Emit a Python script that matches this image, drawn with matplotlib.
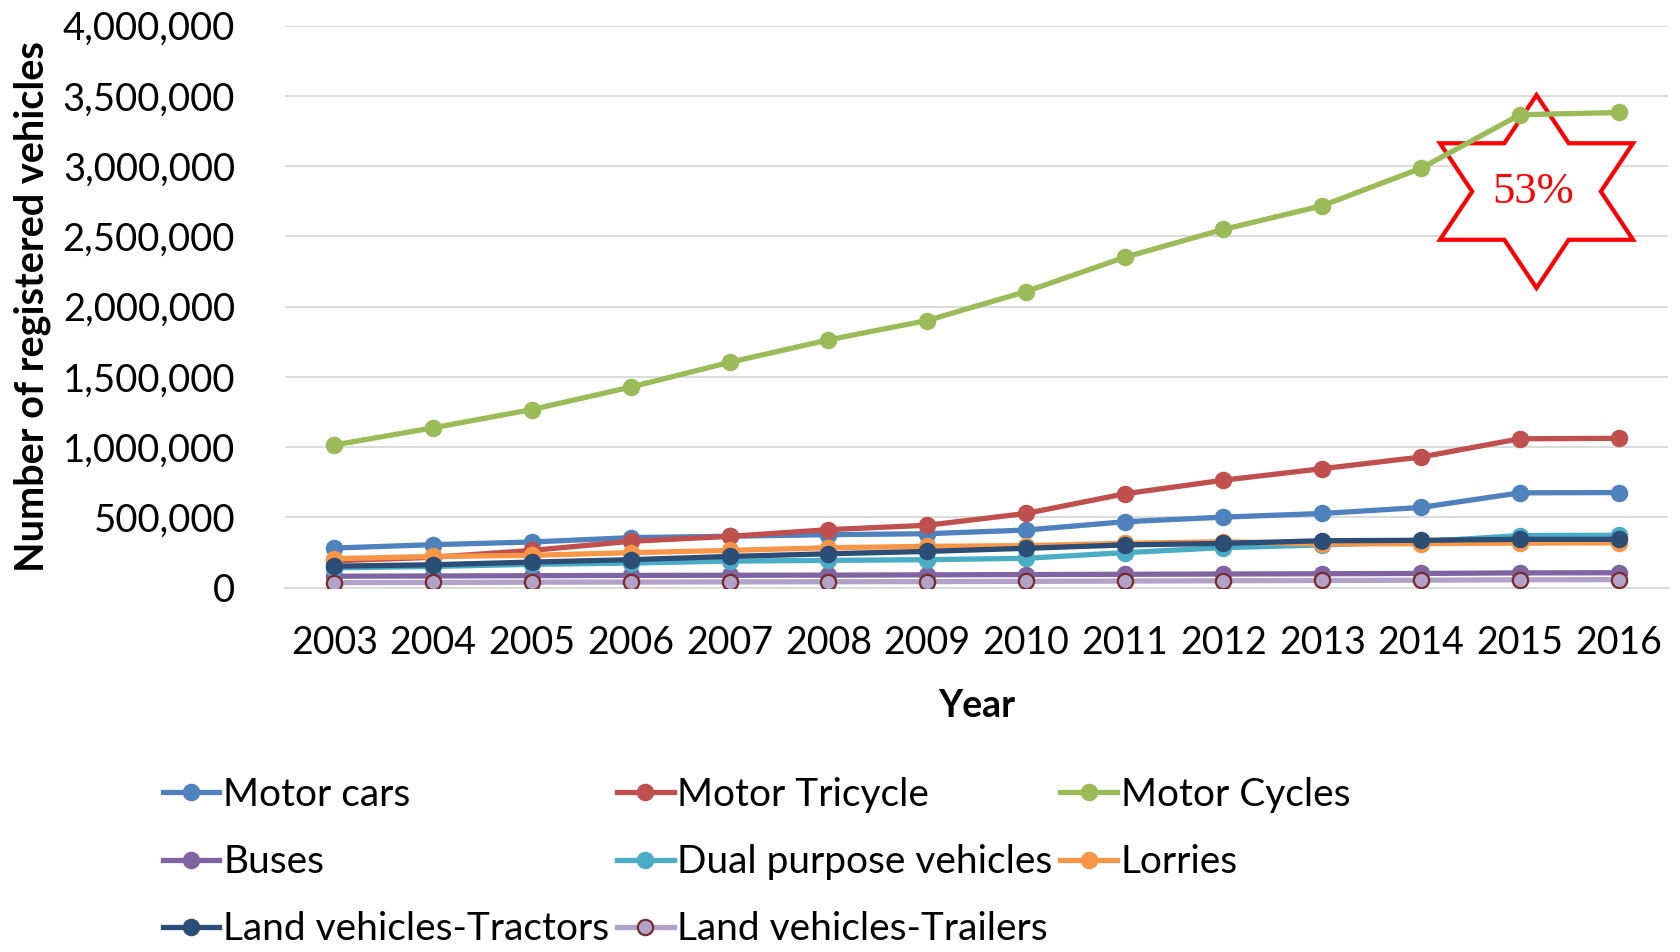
import numpy as np
import matplotlib.pyplot as plt
from matplotlib.ticker import MultipleLocator, StrMethodFormatter
from matplotlib.patches import Polygon

plt.rcParams['font.family'] = ['Lato', 'DejaVu Sans']

years = list(range(2003, 2017))

motor_cars = [281000, 305000, 324000, 355000, 365000, 376000, 383000,
              409000, 468000, 501000, 527000, 570000, 674000, 676000]
motor_tricycle = [190000, 215000, 264000, 329000, 364000, 412000, 443000,
                  527000, 667000, 764000, 846000, 929000, 1059000, 1062000]
motor_cycles = [1015000, 1137000, 1267000, 1427000, 1603000, 1763000, 1901000,
                2107000, 2351000, 2550000, 2718000, 2985000, 3366000, 3382000]
buses = [80000, 82000, 84000, 86000, 87000, 88000, 90000,
         92000, 94000, 96000, 98000, 100000, 104000, 105000]
dual_purpose = [140000, 150000, 165000, 174000, 188000, 193000, 198000,
                208000, 248000, 284000, 303000, 326000, 370000, 372000]
lorries = [205000, 221000, 229000, 248000, 264000, 283000, 293000,
           298000, 314000, 326000, 310000, 312000, 316000, 318000]
tractors = [152000, 162000, 181000, 198000, 221000, 240000, 257000,
            279000, 303000, 314000, 333000, 336000, 343000, 343000]
trailers = [35000, 36000, 38000, 39000, 40000, 41000, 42000,
            44000, 46000, 48000, 50000, 52000, 55000, 56000]

series = [
    ('Motor cars', motor_cars, '#4F81BD', '#4F81BD', '#4F81BD'),
    ('Motor Tricycle', motor_tricycle, '#C0504D', '#C0504D', '#C0504D'),
    ('Motor Cycles', motor_cycles, '#9BBB59', '#9BBB59', '#9BBB59'),
    ('Buses', buses, '#8064A2', '#8064A2', '#8064A2'),
    ('Dual purpose vehicles', dual_purpose, '#4BACC6', '#4BACC6', '#4BACC6'),
    ('Lorries', lorries, '#F79646', '#F79646', '#F79646'),
    ('Land vehicles-Tractors', tractors, '#2C4D75', '#2C4D75', '#2C4D75'),
    ('Land vehicles-Trailers', trailers, '#B3A2C7', '#B3A2C7', '#772C2A'),
]

W, H = 1681, 952
fig = plt.figure(figsize=(W / 100, H / 100), dpi=100)
ax = fig.add_axes([285 / W, 1 - 587.5 / H, (1668 - 285) / W, (587.5 - 25.7) / H])

handles = {}
for name, vals, lc, mfc, mec in series:
    h, = ax.plot(years, vals, color=lc, linewidth=3.8, marker='o', markersize=11,
                 markerfacecolor=mfc, markeredgecolor=mec, markeredgewidth=1.6,
                 label=name, zorder=3)
    handles[name] = h

ax.set_xlim(2002.5, 2016.5)
ax.set_ylim(0, 4000000)
ax.yaxis.set_major_locator(MultipleLocator(500000))
ax.yaxis.set_major_formatter(StrMethodFormatter('{x:,.0f}'))
ax.set_xticks(years)

ax.grid(axis='y', color='#D9D9D9', linewidth=1.3, zorder=0)
ax.set_axisbelow(True)
for s in ['top', 'right', 'left']:
    ax.spines[s].set_visible(False)
ax.spines['bottom'].set_color('#D9D9D9')
ax.spines['bottom'].set_linewidth(1.3)

ax.tick_params(axis='y', length=0, labelsize=27.5, pad=36)
ax.tick_params(axis='x', length=0, labelsize=27, pad=27)

ax.set_xlabel('Year', fontsize=27, fontweight='bold', labelpad=20)
ax.set_ylabel('Number of registered vehicles', fontsize=28.5, fontweight='bold', labelpad=8)

# six-pointed star annotation
cx, cy = 1536.5, 191.5
R, stretch = 96.5, 1.155
r = R / np.sqrt(3)
pts = []
for k in range(12):
    ang = np.pi / 2 + k * np.pi / 6
    rad = R if k % 2 == 0 else r
    px = cx + rad * np.cos(ang) * stretch
    py = cy - rad * np.sin(ang)
    pts.append((px / W, 1 - py / H))
star = Polygon(pts, closed=True, transform=fig.transFigure, facecolor='white',
               edgecolor='#FF0000', linewidth=3, zorder=2)
ax.add_artist(star)
fig.text(1533 / W, 1 - 192 / H, '53%', color='#FF0000', fontsize=32,
         family='Liberation Serif', ha='center', va='center')

order = ['Motor cars', 'Buses', 'Land vehicles-Tractors',
         'Motor Tricycle', 'Dual purpose vehicles', 'Land vehicles-Trailers',
         'Motor Cycles', 'Lorries']
fig.legend([handles[n] for n in order], order, ncol=3, loc='upper left',
           bbox_to_anchor=(163 / W, 1 - 777 / H), frameon=False, fontsize=28,
           handlelength=1.45, handletextpad=0.1, columnspacing=0.2,
           labelspacing=0.8, borderpad=0, borderaxespad=0)

fig.savefig('out.png', dpi=100)
